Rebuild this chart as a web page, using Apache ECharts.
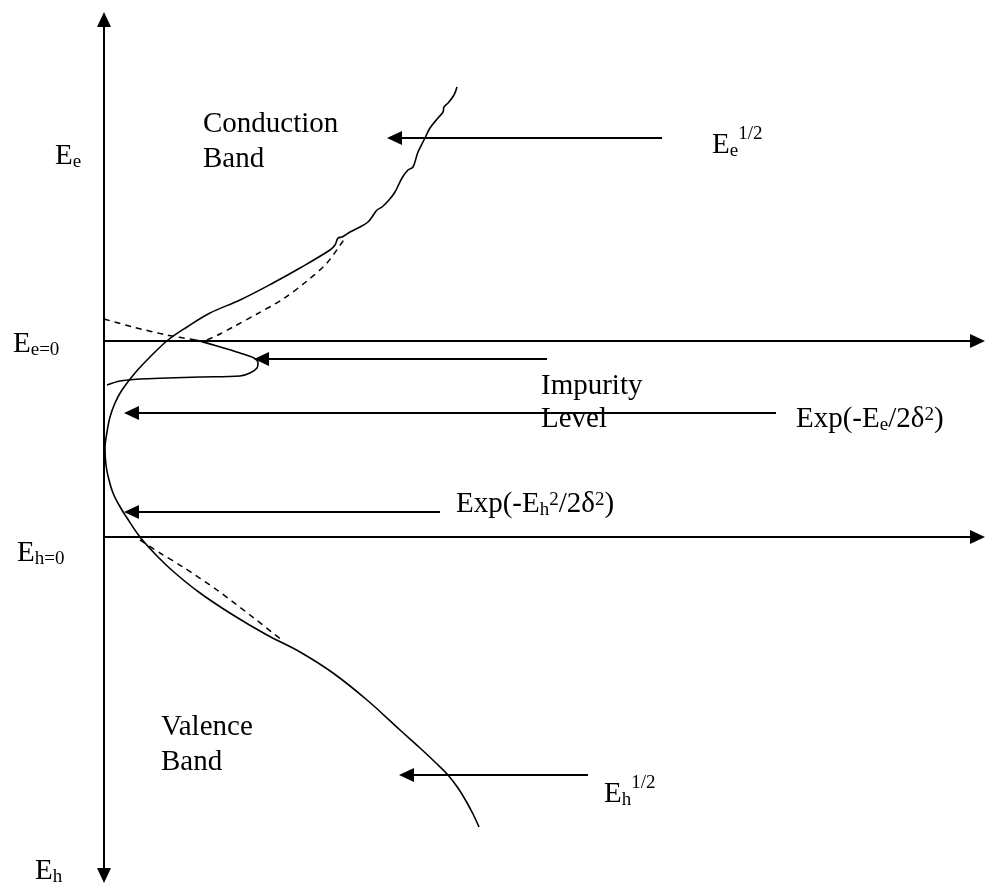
<!DOCTYPE html>
<html>
<head>
<meta charset="utf-8">
<script src="https://cdn.jsdelivr.net/npm/echarts@6/dist/echarts.min.js"></script>
<style>
html,body{margin:0;padding:0;background:#ffffff;}
#chart{width:986px;height:884px;}
</style>
</head>
<body>
<div id="chart"></div>
<script>
// ---- Data (x: density axis, y: energy position, downward) ----
// Main density-of-states curve (conduction band -> gaussian tail -> valence band)
const mainCurveX = [457,454,448,444,443,438,430,425,418,413,408,402,395,389,382,377,372,368,360,350,342,338,335,330,300,273,240,210,187,168,150,135,122,115,110,107,105,106,109,113,119,127,140,158,175,200,233,267,300,333,367,400,420,436,448,458,466,473,479];
const mainCurveY = [87,95,103,107,112,118,128,138,152,167,170,178,192,200,207,210,217,222,227,232,237,238,245,250,268,283,300,313,327,340,357,373,390,403,417,432,448,465,480,493,505,518,537,557,573,593,615,635,652,673,700,730,748,763,775,788,801,814,827];
// Impurity level bump
const impurityX = [196,217,240,254,258,257,250,240,200,167,140,120,107];
const impurityY = [340,346,353,358,363,368,373,376,377,378,379,381,385];
// Dashed exponential tail above E_e=0
const tailDashX = [104,133,167,196];
const tailDashY = [319,327,335,340];
// Dashed E_e^1/2 parabola
const condDashX = [207,220,233,257,283,307,327,345];
const condDashY = [340,334,327,314,299,281,263,238];
// Dashed E_h^1/2 parabola
const valDashX = [140,160,183,217,250,283];
const valDashY = [540,553,567,590,615,641];

// Arrows: tail -> tip
const arrowTailX = [104,104,104,104,662,547,776,440,588];
const arrowTailY = [450,450,341,537,138,359,413,512,775];
const arrowTipX  = [104,104,985,985,387,254,124,124,399];
const arrowTipY  = [12,883,341,537,138,359,413,512,775];

// Text labels (markup: _{} subscript, ^{} superscript, ^^{} raised superscript)
const labelText = ["Conduction","Band","E_{e}","E_{e}^^{1/2}","E_{e=0}","Impurity","Level",
  "Exp(-E_{e}/2δ^{2})","Exp(-E_{h}^{2}/2δ^{2})","E_{h=0}","Valence","Band","E_{h}^^{1/2}","E_{h}"];
const labelX = [203,203,55,712,13,541,541,796,456,17,161,161,604,35];
const labelY = [133,168,165,154,353,395,428,428,513,562,736,771,803,880];

// ---- Rendering ----
const zip = (xs, ys) => xs.map((x, i) => [x, ys[i]]);
const FONT_FAMILY = '"Liberation Serif","Times New Roman",serif';
const MAIN_SIZE = 29, SMALL_SIZE = 19;
const measureCtx = document.createElement('canvas').getContext('2d');
function textWidth(t, size) {
  measureCtx.font = size + 'px ' + FONT_FAMILY;
  return measureCtx.measureText(t).width;
}
function parseMarkup(s) {
  const re = /(\^\^\{[^}]*\}|\^\{[^}]*\}|_\{[^}]*\}|[^_^]+)/g;
  const out = [];
  let m;
  while ((m = re.exec(s)) !== null) {
    const tok = m[0];
    if (tok.startsWith('^^{')) out.push({t: tok.slice(3, -1), size: SMALL_SIZE, dy: -14});
    else if (tok.startsWith('^{')) out.push({t: tok.slice(2, -1), size: SMALL_SIZE, dy: -7});
    else if (tok.startsWith('_{')) out.push({t: tok.slice(2, -1), size: SMALL_SIZE, dy: 3});
    else out.push({t: tok, size: MAIN_SIZE, dy: 0});
  }
  return out;
}

function renderArrow(params, api) {
  const p1 = api.coord([api.value(0), api.value(1)]);
  const p2 = api.coord([api.value(2), api.value(3)]);
  const dx = p2[0] - p1[0], dy = p2[1] - p1[1];
  const len = Math.hypot(dx, dy);
  const ux = dx / len, uy = dy / len;
  const L = 15, W = 7;
  const bx = p2[0] - ux * L, by = p2[1] - uy * L;
  return {
    type: 'group',
    children: [
      {type: 'line', shape: {x1: p1[0], y1: p1[1], x2: bx + ux * 2, y2: by + uy * 2},
       style: {stroke: '#000', lineWidth: 2}},
      {type: 'polygon', shape: {points: [[p2[0], p2[1]], [bx - uy * W, by + ux * W], [bx + uy * W, by - ux * W]]},
       style: {fill: '#000'}}
    ]
  };
}

function renderLabel(params, api) {
  const p = api.coord([api.value(0), api.value(1)]);
  const segs = parseMarkup(labelText[params.dataIndex]);
  let x = p[0];
  const children = [];
  segs.forEach(s => {
    children.push({
      type: 'text',
      x: x,
      y: p[1] + s.dy - 0.305 * s.size,
      style: {text: s.t, font: s.size + 'px ' + FONT_FAMILY, fill: '#000', align: 'left', verticalAlign: 'middle'}
    });
    x += textWidth(s.t, s.size);
  });
  return {type: 'group', children: children};
}

const lineBase = {type: 'line', showSymbol: false, symbol: 'none', silent: true, animation: false, z: 3};

const option = {
  backgroundColor: '#ffffff',
  animation: false,
  grid: {left: 0, right: 0, top: 0, bottom: 0},
  xAxis: {type: 'value', min: 0, max: 986, show: false},
  yAxis: {type: 'value', min: 0, max: 884, inverse: true, show: false},
  series: [
    Object.assign({}, lineBase, {name: 'DOS', data: zip(mainCurveX, mainCurveY), smooth: 0.35,
      lineStyle: {color: '#000', width: 1.6}}),
    Object.assign({}, lineBase, {name: 'Impurity', data: zip(impurityX, impurityY), smooth: 0.3,
      lineStyle: {color: '#000', width: 1.6}}),
    Object.assign({}, lineBase, {name: 'Tail', data: zip(tailDashX, tailDashY), smooth: 0.3,
      lineStyle: {color: '#000', width: 1.5, type: [6, 5]}}),
    Object.assign({}, lineBase, {name: 'Ee12', data: zip(condDashX, condDashY), smooth: 0.3,
      lineStyle: {color: '#000', width: 1.5, type: [6, 5]}}),
    Object.assign({}, lineBase, {name: 'Eh12', data: zip(valDashX, valDashY), smooth: 0.3,
      lineStyle: {color: '#000', width: 1.5, type: [6, 5]}}),
    {
      type: 'custom', name: 'arrows', silent: true, clip: false, z: 4,
      renderItem: renderArrow,
      encode: {x: [0, 2], y: [1, 3]},
      data: arrowTailX.map((x, i) => [x, arrowTailY[i], arrowTipX[i], arrowTipY[i]])
    },
    {
      type: 'custom', name: 'labels', silent: true, clip: false, z: 5,
      renderItem: renderLabel,
      encode: {x: 0, y: 1},
      data: zip(labelX, labelY)
    }
  ]
};

const chart = echarts.init(document.getElementById('chart'), null, {renderer: 'canvas'});
chart.setOption(option);
</script>
</body>
</html>
